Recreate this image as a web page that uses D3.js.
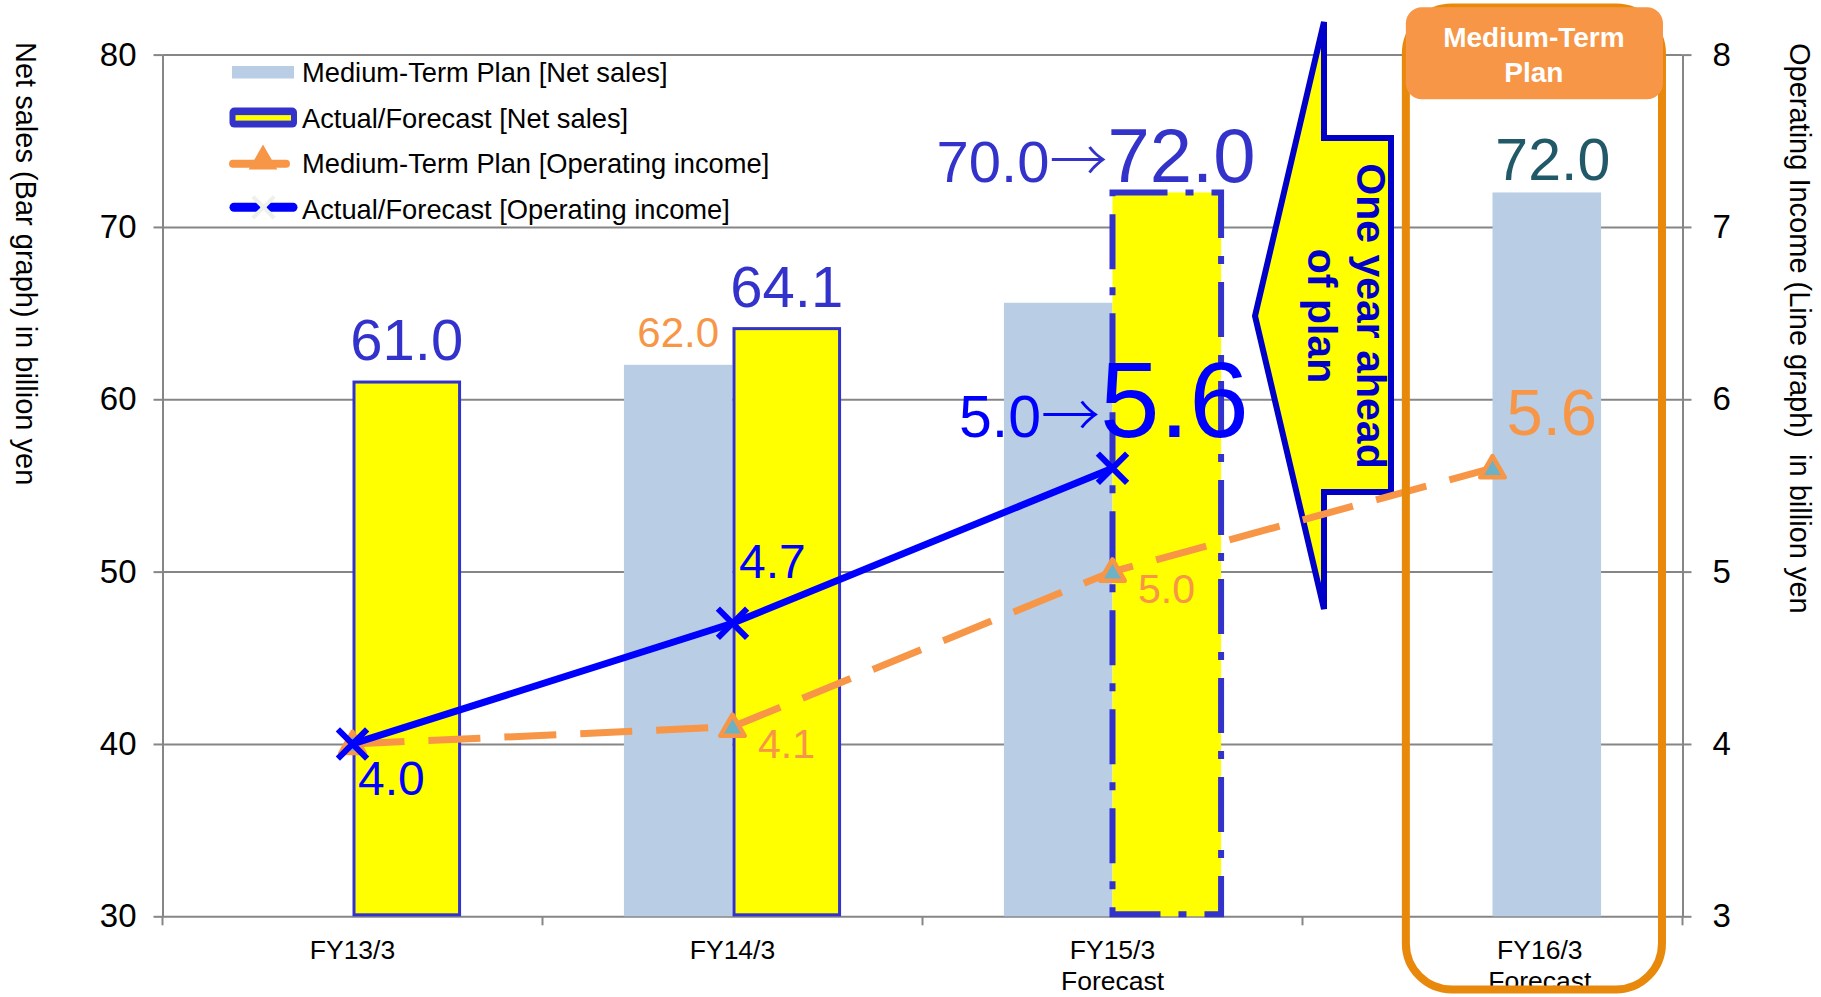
<!DOCTYPE html>
<html>
<head>
<meta charset="utf-8">
<script src="https://cdn.jsdelivr.net/npm/d3@7"></script>
<style>
  html, body { margin: 0; padding: 0; background: #ffffff; }
  svg { display: block; font-family: "Liberation Sans", Arial, Helvetica, sans-serif; }
</style>
</head>
<body>
<svg id="chart" width="1821" height="997"></svg>
<script>
// ---- data -------------------------------------------------------------
const categories = ["FY13/3", "FY14/3", "FY15/3", "FY16/3"];
const categoryNotes = ["", "", "Forecast", "Forecast"];

// Net sales (billion yen), left axis
const planSales = [null, 62.0, 65.6, 72.0];
const actualSales = [61.0, 64.1, 72.0, null];
const actualIsForecast = [false, false, true, false];
const previousSalesForecast = [null, null, 70.0, null];
const planSalesLabelled = [false, true, false, true];

// Operating income (billion yen), right axis
const planIncome = [4.0, 4.1, 5.0, 5.6];
const actualIncome = [4.0, 4.7, 5.6, null];
const previousIncomeForecast = [null, null, 5.0, null];

const salesTicks = [30, 40, 50, 60, 70, 80];
const incomeTicks = [3, 4, 5, 6, 7, 8];

const legendLabels = [
  "Medium-Term Plan [Net sales]",
  "Actual/Forecast [Net sales]",
  "Medium-Term Plan [Operating income]",
  "Actual/Forecast [Operating income]"
];
const leftTitle = "Net sales (Bar graph) in billion yen";
const rightTitle = "Operating Income (Line graph)  in billion yen";
const calloutLines = ["One year ahead", "of plan"];
const headerLines = ["Medium-Term", "Plan"];

// ---- styling ----------------------------------------------------------
const COL = {
  grid: "#868686",
  plan: "#B9CDE5",
  yellow: "#FFFF00",
  barBlue: "#3333CC",
  lineBlue: "#0000FF",
  orange: "#F79646",
  teal: "#215968",
  box: "#E8890C",
  callout: "#0000C8"
};
const ARROW_FONT = "'Noto Sans CJK JP', 'DejaVu Sans', sans-serif";

const svg = d3.select("#chart");
const plotLeft = 162.5, plotRight = 1682.5, plotTop = 54.6, plotBottom = 916.3;

const x = d3.scaleBand().domain(categories).range([plotLeft, plotRight]);
const band = x.bandwidth();
const bw = band * 2 / 7;
const cx = c => x(c) + band / 2;
const yS = d3.scaleLinear().domain([30, 80]).range([plotBottom, plotTop]);
const yI = d3.scaleLinear().domain([3, 8]).range([plotBottom, plotTop]);

const rows = categories.map((c, i) => ({
  c, i,
  center: cx(c),
  plan: planSales[i],
  actual: actualSales[i],
  forecast: actualIsForecast[i],
  prev: previousSalesForecast[i],
  planI: planIncome[i],
  actualI: actualIncome[i],
  prevI: previousIncomeForecast[i]
}));
// the plan bar takes the actual bar's slot when no actual exists
const planX = d => d.actual == null ? d.center : d.center - bw;

// ---- gridlines & axes -------------------------------------------------
svg.append("g")
  .attr("transform", `translate(${plotLeft},0)`)
  .call(d3.axisLeft(yS).tickValues(salesTicks).tickSize(-(plotRight - plotLeft)).tickFormat(""))
  .call(g => g.select(".domain").remove())
  .call(g => g.selectAll("line").attr("stroke", COL.grid).attr("stroke-width", 2));

const styleAxis = g => {
  g.select(".domain").attr("stroke", COL.grid).attr("stroke-width", 2);
  g.selectAll(".tick line").attr("stroke", COL.grid).attr("stroke-width", 2);
  g.selectAll(".tick text").attr("fill", "#000").attr("font-size", 33)
    .attr("font-family", "Liberation Sans, Arial, sans-serif");
};

svg.append("g")
  .attr("transform", `translate(${plotLeft},0)`)
  .call(d3.axisLeft(yS).tickValues(salesTicks).tickFormat(d3.format("d"))
    .tickSize(9).tickSizeOuter(0).tickPadding(17))
  .call(styleAxis);

svg.append("g")
  .attr("transform", `translate(${plotRight},0)`)
  .call(d3.axisRight(yI).tickValues(incomeTicks).tickFormat(d3.format("d"))
    .tickSize(9).tickSizeOuter(0).tickPadding(21))
  .call(styleAxis);

// category boundary ticks along the bottom
const bounds = categories.map(c => x(c)).concat([plotRight]);
svg.append("g").selectAll("line").data(bounds).join("line")
  .attr("x1", d => d).attr("x2", d => d)
  .attr("y1", plotBottom).attr("y2", plotBottom + 9)
  .attr("stroke", COL.grid).attr("stroke-width", 2);

// ---- bars ---------------------------------------------------------------
svg.append("g").selectAll("rect")
  .data(rows.filter(d => d.plan != null)).join("rect")
  .attr("x", planX).attr("width", bw)
  .attr("y", d => yS(d.plan)).attr("height", d => plotBottom - yS(d.plan))
  .attr("fill", COL.plan);

const actualRows = rows.filter(d => d.actual != null);
svg.append("g").selectAll("rect")
  .data(actualRows.filter(d => !d.forecast)).join("rect")
  .attr("x", d => d.center + 1.5).attr("width", bw - 3)
  .attr("y", d => yS(d.actual)).attr("height", d => plotBottom - 1.5 - yS(d.actual))
  .attr("fill", COL.yellow).attr("stroke", COL.barBlue).attr("stroke-width", 3);

const fc = svg.append("g").selectAll("g")
  .data(actualRows.filter(d => d.forecast)).join("g");
fc.append("rect")
  .attr("x", d => d.center).attr("width", bw)
  .attr("y", d => yS(d.actual)).attr("height", d => plotBottom - yS(d.actual))
  .attr("fill", COL.yellow);
fc.append("rect")
  .attr("x", d => d.center).attr("width", bw)
  .attr("y", d => yS(d.actual)).attr("height", d => plotBottom - 2 - yS(d.actual))
  .attr("fill", "none").attr("stroke", COL.barBlue).attr("stroke-width", 6)
  .attr("stroke-dasharray", "55,18,8,18");

// ---- callout arrow ----------------------------------------------------
const callout = svg.append("g");
callout.append("path")
  .attr("d", "M1324,22 L1324,138 L1391,138 L1391,492 L1324,492 L1324,609 L1255,316 Z")
  .attr("fill", COL.yellow).attr("stroke", COL.callout).attr("stroke-width", 6)
  .attr("stroke-linejoin", "miter").attr("stroke-miterlimit", 3);
callout.selectAll("text").data(calloutLines).join("text")
  .attr("transform", (d, i) => `translate(${1357 - i * 49},316) rotate(90)`)
  .attr("text-anchor", "middle")
  .attr("font-size", 41).attr("font-weight", "bold").attr("fill", COL.callout)
  .text(d => d);

// ---- lines --------------------------------------------------------------
const planPts = rows.filter(d => d.planI != null);
svg.append("path")
  .datum(planPts)
  .attr("d", d3.line().x(d => d.center).y(d => yI(d.planI)))
  .attr("fill", "none").attr("stroke", COL.orange).attr("stroke-width", 7)
  .attr("stroke-dasharray", "52,24");

const tri = d3.symbol().type(d3.symbolTriangle).size(260);
svg.append("g").selectAll("path").data(planPts).join("path")
  .attr("transform", d => `translate(${d.center},${yI(d.planI) + 2})`)
  .attr("d", tri)
  .attr("fill", "#6CB2C6").attr("stroke", COL.orange).attr("stroke-width", 4.5)
  .attr("stroke-linejoin", "round");

const actPts = rows.filter(d => d.actualI != null);
svg.append("path")
  .datum(actPts)
  .attr("d", d3.line().x(d => d.center).y(d => yI(d.actualI)))
  .attr("fill", "none").attr("stroke", COL.lineBlue).attr("stroke-width", 7);

const cross = d3.symbol().type(d3.symbolX).size(560);
svg.append("g").selectAll("path").data(actPts).join("path")
  .attr("transform", d => `translate(${d.center},${yI(d.actualI)})`)
  .attr("d", cross)
  .attr("fill", "none").attr("stroke", COL.lineBlue).attr("stroke-width", 6);

// ---- value labels -----------------------------------------------------
const labels = svg.append("g");
const addText = (xp, yp, txt, size, color, anchor) =>
  labels.append("text").attr("x", xp).attr("y", yp)
    .attr("font-size", size).attr("fill", color)
    .attr("text-anchor", anchor || "start").text(txt);
// "previous → new": previous value plus a long arrow, end-anchored
const addRevision = (xp, yp, prevTxt, size, color) => {
  const t = labels.append("text").attr("x", xp).attr("y", yp)
    .attr("font-size", size).attr("fill", color).attr("text-anchor", "end");
  t.append("tspan").text(prevTxt);
  t.append("tspan").attr("font-family", ARROW_FONT).attr("font-weight", 300).text("\u2192");
};
const f1 = d3.format(".1f");

// net sales: actual / forecast
actualRows.forEach(d => {
  const barTop = yS(d.actual);
  if (d.prev != null) {
    addRevision(d.center - 5, barTop - 10, f1(d.prev), 58, COL.barBlue);
    addText(d.center - 5, barTop - 10, f1(d.actual), 76, COL.barBlue, "start");
  } else {
    addText(d.center + bw / 2, barTop - 22, f1(d.actual), 58, COL.barBlue, "middle");
  }
});

// net sales: plan
rows.filter(d => d.plan != null && planSalesLabelled[d.i]).forEach(d => {
  const barTop = yS(d.plan);
  if (d.actual == null) {
    addText(planX(d) + bw / 2 + 6, barTop - 12, f1(d.plan), 59, COL.teal, "middle");
  } else {
    addText(planX(d) + bw / 2, barTop - 18, f1(d.plan), 42, COL.orange, "middle");
  }
});

// operating income: actual / forecast
actPts.forEach(d => {
  const py = yI(d.actualI);
  const v = f1(d.actualI);
  if (d.prevI != null) {
    addRevision(d.center - 12.5, py - 31.5, f1(d.prevI), 59, COL.lineBlue);
    addText(d.center - 12.5, py - 31.5, v, 107, COL.lineBlue, "start");
  } else if (d.i === 0) {
    addText(d.center + 5.5, py + 51, v, 48, COL.lineBlue);
  } else {
    addText(d.center + 6.5, py - 45, v, 48, COL.lineBlue);
  }
});

// operating income: plan (only where it differs from the actual)
planPts.filter(d => d.actualI == null || d.actualI !== d.planI).forEach(d => {
  const py = yI(d.planI);
  const v = f1(d.planI);
  if (d.actualI == null) {
    addText(d.center + 14, py - 33, v, 65, COL.orange);
  } else {
    addText(d.center + 25.5, py + 31, v, 41, COL.orange);
  }
});

// ---- category labels ------------------------------------------------------
const catG = svg.append("g");
rows.forEach(d => {
  const lx = d.actual == null ? planX(d) + bw / 2 - 7 : d.center;
  catG.append("text").attr("x", lx).attr("y", 959)
    .attr("text-anchor", "middle").attr("font-size", 26.5).attr("fill", "#000")
    .text(d.c);
  if (categoryNotes[d.i]) {
    catG.append("text").attr("x", lx).attr("y", 990)
      .attr("text-anchor", "middle").attr("font-size", 26.5).attr("fill", "#000")
      .text(categoryNotes[d.i]);
  }
});

// ---- axis titles ------------------------------------------------------------
svg.append("text")
  .attr("transform", "translate(15.5,42) rotate(90)")
  .attr("font-size", 29).attr("fill", "#000").style("white-space", "pre")
  .text(leftTitle);
svg.append("text")
  .attr("transform", "translate(1790,43) rotate(90)")
  .attr("font-size", 29).attr("fill", "#000").style("white-space", "pre")
  .text(rightTitle);

// ---- legend -------------------------------------------------------------------
const lg = svg.append("g");
const rowY = i => 82 + i * 45.6;
lg.append("rect").attr("x", 232).attr("y", rowY(0) - 16).attr("width", 62).attr("height", 12.5)
  .attr("fill", COL.plan);
lg.append("rect").attr("x", 229.5).attr("y", rowY(1) - 20).attr("width", 67.5).attr("height", 20)
  .attr("rx", 5).attr("fill", COL.barBlue);
lg.append("rect").attr("x", 235.5).attr("y", rowY(1) - 12.5).attr("width", 55.5).attr("height", 5.5)
  .attr("fill", COL.yellow);
lg.append("line").attr("x1", 233).attr("x2", 286).attr("y1", rowY(2) - 9.5).attr("y2", rowY(2) - 9.5)
  .attr("stroke", COL.orange).attr("stroke-width", 8).attr("stroke-linecap", "round");
lg.append("path").attr("transform", `translate(263,${rowY(2) - 12})`)
  .attr("d", d3.symbol().type(d3.symbolTriangle).size(240))
  .attr("fill", COL.orange).attr("stroke", COL.orange).attr("stroke-width", 3);
lg.append("line").attr("x1", 234).attr("x2", 256).attr("y1", rowY(3) - 11.5).attr("y2", rowY(3) - 11.5)
  .attr("stroke", COL.lineBlue).attr("stroke-width", 9).attr("stroke-linecap", "round");
lg.append("line").attr("x1", 271).attr("x2", 293).attr("y1", rowY(3) - 11.5).attr("y2", rowY(3) - 11.5)
  .attr("stroke", COL.lineBlue).attr("stroke-width", 9).attr("stroke-linecap", "round");
lg.append("path").attr("transform", `translate(263.5,${rowY(3) - 11.5})`)
  .attr("d", d3.symbol().type(d3.symbolX).size(300))
  .attr("fill", "none").attr("stroke", "#EEF0EA").attr("stroke-width", 4);
lg.selectAll("text").data(legendLabels).join("text")
  .attr("x", 302).attr("y", (d, i) => rowY(i))
  .attr("font-size", 27.3).attr("fill", "#000")
  .text(d => d);

// ---- medium-term plan highlight box --------------------------------------------
const hx = x("FY16/3");
const boxL = hx + band * 0.272, boxR = hx + band * 0.946;
svg.append("rect")
  .attr("x", boxL).attr("y", 7.5).attr("width", boxR - boxL).attr("height", 982)
  .attr("rx", 46).attr("fill", "none").attr("stroke", COL.box).attr("stroke-width", 8);
svg.append("rect")
  .attr("x", boxL).attr("y", 7.3).attr("width", boxR - boxL + 1).attr("height", 92)
  .attr("rx", 16).attr("fill", COL.orange);
svg.append("g").selectAll("text").data(headerLines).join("text")
  .attr("x", (boxL + boxR) / 2).attr("y", (d, i) => 46.7 + i * 35)
  .attr("text-anchor", "middle").attr("font-size", 28).attr("font-weight", "bold")
  .attr("fill", "#ffffff").text(d => d);
</script>
</body>
</html>
